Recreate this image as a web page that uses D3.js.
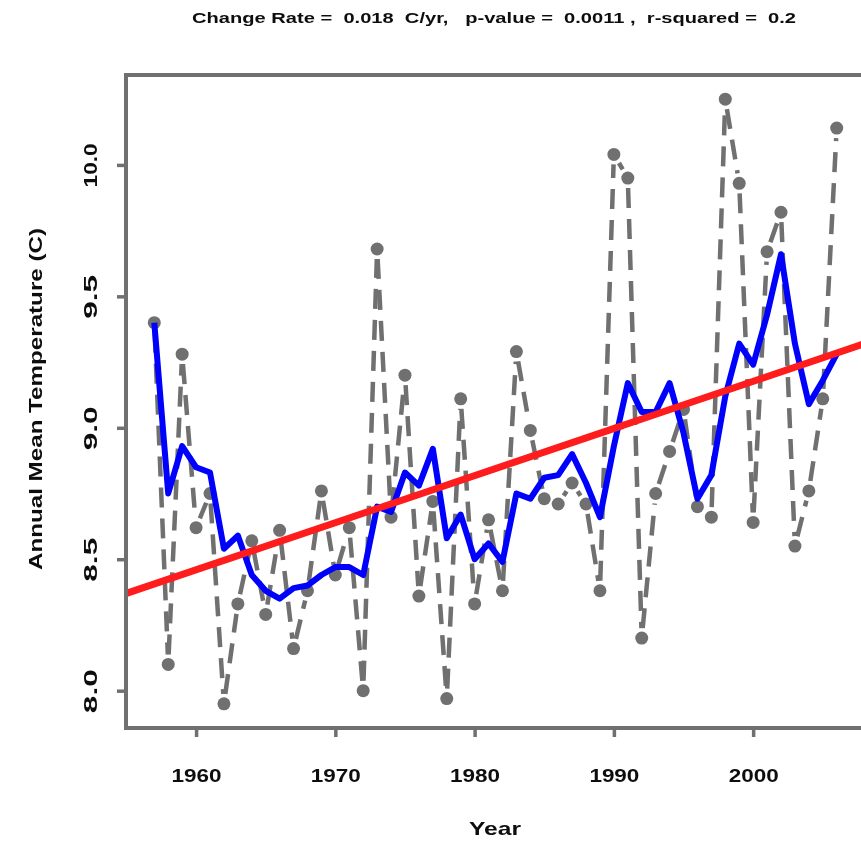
<!DOCTYPE html>
<html>
<head>
<meta charset="utf-8">
<script src="https://cdn.jsdelivr.net/npm/d3@7"></script>
<style>
  html, body { margin: 0; padding: 0; background: #fff; overflow: hidden; }
  svg text { font-family: "Liberation Sans", Arial, sans-serif; font-weight: bold; fill: #111; }
</style>
</head>
<body>
<script>
// annual mean temperature
const years = d3.range(1957, 2007);
const temps = [
  9.40, 8.10, 9.28, 8.62, 8.75, 7.95, 8.33, 8.57, 8.29, 8.61,
  8.16, 8.38, 8.76, 8.44, 8.62, 8.00, 9.68, 8.66, 9.20, 8.36,
  8.72, 7.97, 9.11, 8.33, 8.65, 8.38, 9.29, 8.99, 8.73, 8.71,
  8.79, 8.71, 8.38, 10.04, 9.95, 8.20, 8.75, 8.91, 9.07, 8.70,
  8.66, 10.25, 9.93, 8.64, 9.67, 9.82, 8.55, 8.76, 9.11, 10.14
];
// blue curve (5-yr running mean)
const smoothTemps = [
  9.40, 8.75, 8.93, 8.85, 8.83, 8.54, 8.59, 8.44, 8.38, 8.35,
  8.39, 8.40, 8.44, 8.47, 8.47, 8.44, 8.70, 8.68, 8.83, 8.78,
  8.92, 8.58, 8.67, 8.50, 8.56, 8.49, 8.75, 8.73, 8.81, 8.82,
  8.90, 8.79, 8.66, 8.93, 9.17, 9.06, 9.06, 9.17, 8.98, 8.73,
  8.82, 9.12, 9.32, 9.24, 9.43, 9.66, 9.32, 9.09, 9.18, 9.28
];
// red fitted line at the two plot edges
const trendYears = [1955, 2008];
const trendTemps = [8.37, 9.32];

const xTicks = [1960, 1970, 1980, 1990, 2000];
const yTicks = [8.0, 8.5, 9.0, 9.5, 10.0];

const title = "Change Rate =  0.018  C/yr,   p-value =  0.0011 ,  r-squared =  0.2";

const width = 861,
  height = 843,
  margin = { top: 75, right: -3, bottom: 115, left: 126 };

const grey = "#6f6f6f";

const svg = d3.select("body")
  .append("svg")
  .attr("width", width)
  .attr("height", height);

const defs = svg.append("defs");
defs.append("filter").attr("id", "soft")
  .append("feGaussianBlur").attr("stdDeviation", 0.6);
defs.append("clipPath").attr("id", "plotclip")
  .append("rect")
  .attr("x", margin.left).attr("y", margin.top)
  .attr("width", width - margin.left - margin.right)
  .attr("height", height - margin.top - margin.bottom);

const g = svg.append("g").attr("filter", "url(#soft)");

// R-style 4% padding on both axes
const xExt = d3.extent(years), xPad = (xExt[1] - xExt[0]) * 0.04;
const yExt = d3.extent(temps), yPad = (yExt[1] - yExt[0]) * 0.04;

const x = d3.scaleLinear()
  .domain([xExt[0] - xPad, xExt[1] + xPad])
  .range([margin.left + 1, width - margin.right]);

const y = d3.scaleLinear()
  .domain([yExt[0] - yPad, yExt[1] + yPad])
  .range([height - margin.bottom, margin.top]);

const plot = g.append("g").attr("clip-path", "url(#plotclip)");

const pts = years.map((yr, i) => ({ yr, t: temps[i], s: smoothTemps[i] }));

// observations: R type="b" -> each segment dashed on its own, with a gap round the dots
const gap = 10;
const segs = d3.pairs(pts).map(([a, b]) => {
  const x1 = x(a.yr), y1 = y(a.t), x2 = x(b.yr), y2 = y(b.t);
  const len = Math.hypot(x2 - x1, y2 - y1);
  const ux = (x2 - x1) / len, uy = (y2 - y1) / len;
  return { x1: x1 + ux * gap, y1: y1 + uy * gap, x2: x2 - ux * gap, y2: y2 - uy * gap, ok: len > 2 * gap };
}).filter(s => s.ok);

plot.selectAll("line.seg")
  .data(segs)
  .enter()
  .append("line")
  .attr("class", "seg")
  .attr("x1", d => d.x1).attr("y1", d => d.y1)
  .attr("x2", d => d.x2).attr("y2", d => d.y2)
  .attr("stroke", grey)
  .attr("stroke-width", 4.5)
  .attr("stroke-dasharray", "20,11");

plot.selectAll("circle.obs")
  .data(pts)
  .enter()
  .append("circle")
  .attr("class", "obs")
  .attr("cx", d => x(d.yr))
  .attr("cy", d => y(d.t))
  .attr("r", 6.5)
  .attr("fill", grey);

// running mean
plot.append("path")
  .datum(pts)
  .attr("fill", "none")
  .attr("stroke", "#0000ff")
  .attr("stroke-width", 6)
  .attr("stroke-linejoin", "round")
  .attr("d", d3.line().x(d => x(d.yr)).y(d => y(d.s)));

// linear fit
plot.append("path")
  .datum(trendYears.map((yr, i) => ({ yr, t: trendTemps[i] })))
  .attr("fill", "none")
  .attr("stroke", "#ff1a1a")
  .attr("stroke-width", 7)
  .attr("d", d3.line().x(d => x(d.yr)).y(d => y(d.t)));

// axes
const xAxis = g.append("g")
  .attr("transform", `translate(0,${height - margin.bottom})`)
  .call(d3.axisBottom(x).tickValues(xTicks).tickFormat(d3.format("d")).tickSize(9).tickPadding(45));

const yAxis = g.append("g")
  .attr("transform", `translate(${margin.left},0)`)
  .call(d3.axisLeft(y).tickValues(yTicks).tickFormat(d3.format(".1f")).tickSize(9).tickPadding(0));

[xAxis, yAxis].forEach(a => {
  a.select(".domain").remove();
  a.selectAll(".tick line").attr("stroke", grey).attr("stroke-width", 3.5);
});

xAxis.selectAll(".tick text")
  .attr("font-size", 18)
  .attr("dy", "0")
  .attr("textLength", 50)
  .attr("lengthAdjust", "spacingAndGlyphs");

yAxis.selectAll(".tick text")
  .attr("x", 0)
  .attr("dy", 0)
  .attr("text-anchor", "middle")
  .attr("font-size", 18)
  .attr("textLength", 44)
  .attr("lengthAdjust", "spacingAndGlyphs")
  .attr("transform", "translate(-29,0) rotate(-90)");

// plot box
g.append("rect")
  .attr("x", margin.left)
  .attr("y", margin.top)
  .attr("width", width - margin.left - margin.right)
  .attr("height", height - margin.top - margin.bottom)
  .attr("fill", "none")
  .attr("stroke", grey)
  .attr("stroke-width", 4);

// labels
g.append("text")
  .attr("x", 494)
  .attr("y", 23)
  .attr("text-anchor", "middle")
  .attr("font-size", 15)
  .style("white-space", "pre")
  .attr("textLength", 604)
  .attr("lengthAdjust", "spacingAndGlyphs")
  .text(title);

g.append("text")
  .attr("x", 495)
  .attr("y", 835)
  .attr("text-anchor", "middle")
  .attr("font-size", 19)
  .attr("textLength", 52)
  .attr("lengthAdjust", "spacingAndGlyphs")
  .text("Year");

g.append("text")
  .attr("transform", "translate(42,399) rotate(-90)")
  .attr("text-anchor", "middle")
  .attr("font-size", 18)
  .attr("textLength", 342)
  .attr("lengthAdjust", "spacingAndGlyphs")
  .text("Annual Mean Temperature (C)");
</script>
</body>
</html>
